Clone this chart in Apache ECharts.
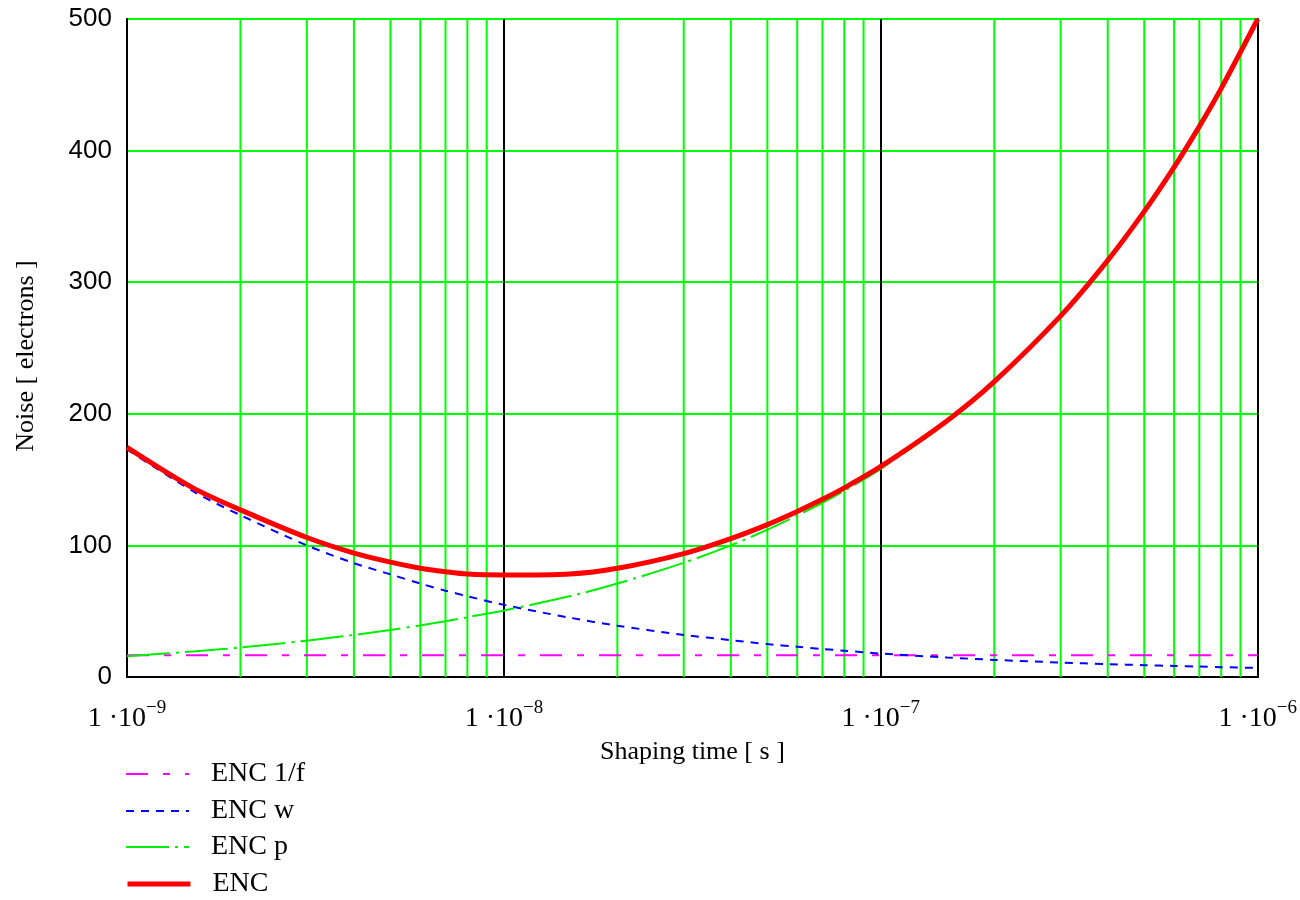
<!DOCTYPE html>
<html>
<head>
<meta charset="utf-8">
<script src="https://cdn.jsdelivr.net/npm/echarts@6/dist/echarts.min.js"></script>
<style>
html,body{margin:0;padding:0;background:#fff;}
#chart{width:1300px;height:900px;}
</style>
</head>
<body>
<div id="chart"></div>
<script>
// Shaping time [s]
const shapingTime = [1e-9,1.5e-9,2e-9,3e-9,4e-9,5e-9,6e-9,7e-9,8e-9,
  1e-8,1.5e-8,2e-8,3e-8,4e-8,5e-8,6e-8,7e-8,8e-8,
  1e-7,1.5e-7,2e-7,3e-7,4e-7,5e-7,6e-7,7e-7,8e-7,1e-6];
// Noise [electrons]
const encF = [16.6,16.6,16.6,16.6,16.6,16.6,16.6,16.6,16.6,
  16.6,16.6,16.6,16.6,16.6,16.6,16.6,16.6,16.6,
  16.6,16.6,16.6,16.6,16.6,16.6,16.6,16.6,16.6,16.6];
const encW = [173,141,123,100,86.5,78,71,65.6,61.4,
  54.8,45,39,32,28,25,23,21.3,20,
  17.8,14.8,13.0,11.0,9.8,9.0,8.4,7.9,7.5,6.9];
const encP = [15.8,19.4,22.4,27.6,32,35.7,39.2,42.4,45.4,
  50.5,61.5,71,86.8,100,112,122.7,132.4,141.5,
  158.2,193.6,223.5,273.8,316.2,353.5,387.2,418.2,447,499.6];
const enc = [174.5,143.5,127,106,94.2,87.3,82.7,80,78.2,
  77.5,78.3,82.6,93.8,105.2,115.8,125.8,135,143.7,
  160,194.8,224.4,274.4,316.6,353.8,387.4,418.4,447.3,500];
// Axis ticks
const xDecades = [1e-9,1e-8,1e-7,1e-6];
const xTickSup = ['\u22129','\u22128','\u22127','\u22126'];
const xMinorGrid = [2e-9,3e-9,4e-9,5e-9,6e-9,7e-9,8e-9,9e-9,
  2e-8,3e-8,4e-8,5e-8,6e-8,7e-8,8e-8,9e-8,
  2e-7,3e-7,4e-7,5e-7,6e-7,7e-7,8e-7,9e-7];
const yMin = 0, yMax = 500, yStep = 100;
const seriesNames = ['ENC 1/f','ENC w','ENC p','ENC'];
const seriesColors = ['#ff00ff','#0000ff','#00ee00','#ff0000'];
const seriesWidths = [2,2,2,5];
const seriesDash = [[22,15,7,15],[8,7],[43,6,3,6],'solid'];
const legendCenters = [774,811,847,884];

const pairs = arr => shapingTime.map((t,i)=>[t,arr[i]]);
const serif = 'Liberation Serif';

const legends = seriesNames.map((n,i)=>({
  data:[n],
  orient:'vertical', left:120, top:legendCenters[i]-20,
  itemWidth:63, itemHeight:14,
  itemStyle:{opacity:0},
  lineStyle:{width:seriesWidths[i]},
  textStyle:{fontFamily:serif,fontSize:28,color:'#000',lineHeight:30,padding:[0,0,0,17]}
}));

const dataSeries = [encF,encW,encP,enc].map((arr,i)=>({
  name:seriesNames[i], type:'line', data:pairs(arr),
  z: i===3 ? 5 : 3,
  smooth: i===0 ? false : 0.3,
  symbol:'none', showSymbol:false,
  color:seriesColors[i],
  lineStyle:{color:seriesColors[i],width:seriesWidths[i],type:seriesDash[i]},
  emphasis:{disabled:true}
}));

// minor vertical grid lines drawn through the axes as broken line segments
const gridData = [];
xMinorGrid.forEach(x=>{ gridData.push([x,yMin],[x,yMax],[x,'-']); });

const chart = echarts.init(document.getElementById('chart'));
const option = {
  animation:false,
  backgroundColor:'#ffffff',
  grid:{left:127,right:39,top:19,bottom:223},
  legend:legends,
  xAxis:[{
    type:'log', logBase:10, min:1e-9, max:1e-6,
    name:'Shaping time [ s ]', nameLocation:'middle', nameGap:62,
    nameTextStyle:{fontFamily:serif,fontSize:26,color:'#000'},
    axisLine:{show:true,lineStyle:{color:'#000',width:2}},
    axisTick:{show:false},
    splitLine:{show:true,lineStyle:{color:'#000',width:2}},
    axisLabel:{
      margin:22,
      formatter:function(v){
        const e = Math.round(Math.log10(v));
        const idx = xDecades.findIndex(d=>Math.round(Math.log10(d))===e);
        return '{a|1 \u00b710}{b|' + (idx>=0?xTickSup[idx]:'') + '}';
      },
      rich:{
        a:{fontFamily:serif,fontSize:28,color:'#000'},
        b:{fontFamily:serif,fontSize:19,color:'#000',padding:[0,0,20,0]}
      }
    }
  },{
    type:'log', logBase:10, min:1e-9, max:1e-6, position:'top',
    axisLine:{show:true,lineStyle:{color:'#000',width:2}},
    axisTick:{show:false}, axisLabel:{show:false}, splitLine:{show:false}
  }],
  yAxis:[{
    type:'value', min:yMin, max:yMax, interval:yStep,
    name:'Noise [ electrons ]', nameLocation:'middle', nameGap:88,
    nameTextStyle:{fontFamily:serif,fontSize:26,color:'#000',padding:[0,16,0,0]},
    axisLine:{show:true,lineStyle:{color:'#000',width:2}},
    axisTick:{show:false},
    splitLine:{show:true,lineStyle:{color:'#00ff00',width:2}},
    axisLabel:{margin:15,fontFamily:'Liberation Sans',fontSize:26,color:'#000'}
  },{
    type:'value', min:yMin, max:yMax, interval:yStep, position:'right',
    axisLine:{show:true,lineStyle:{color:'#000',width:2}},
    axisTick:{show:false}, axisLabel:{show:false}, splitLine:{show:false}
  }],
  series:[
    {
      name:'minor grid', type:'line', data:gridData, z:1, silent:true,
      symbol:'none', showSymbol:false, connectNulls:false,
      lineStyle:{color:'#00ff00',width:2,type:'solid'},
      emphasis:{disabled:true}
    }
  ].concat(dataSeries)
};
chart.setOption(option);
</script>
</body>
</html>
